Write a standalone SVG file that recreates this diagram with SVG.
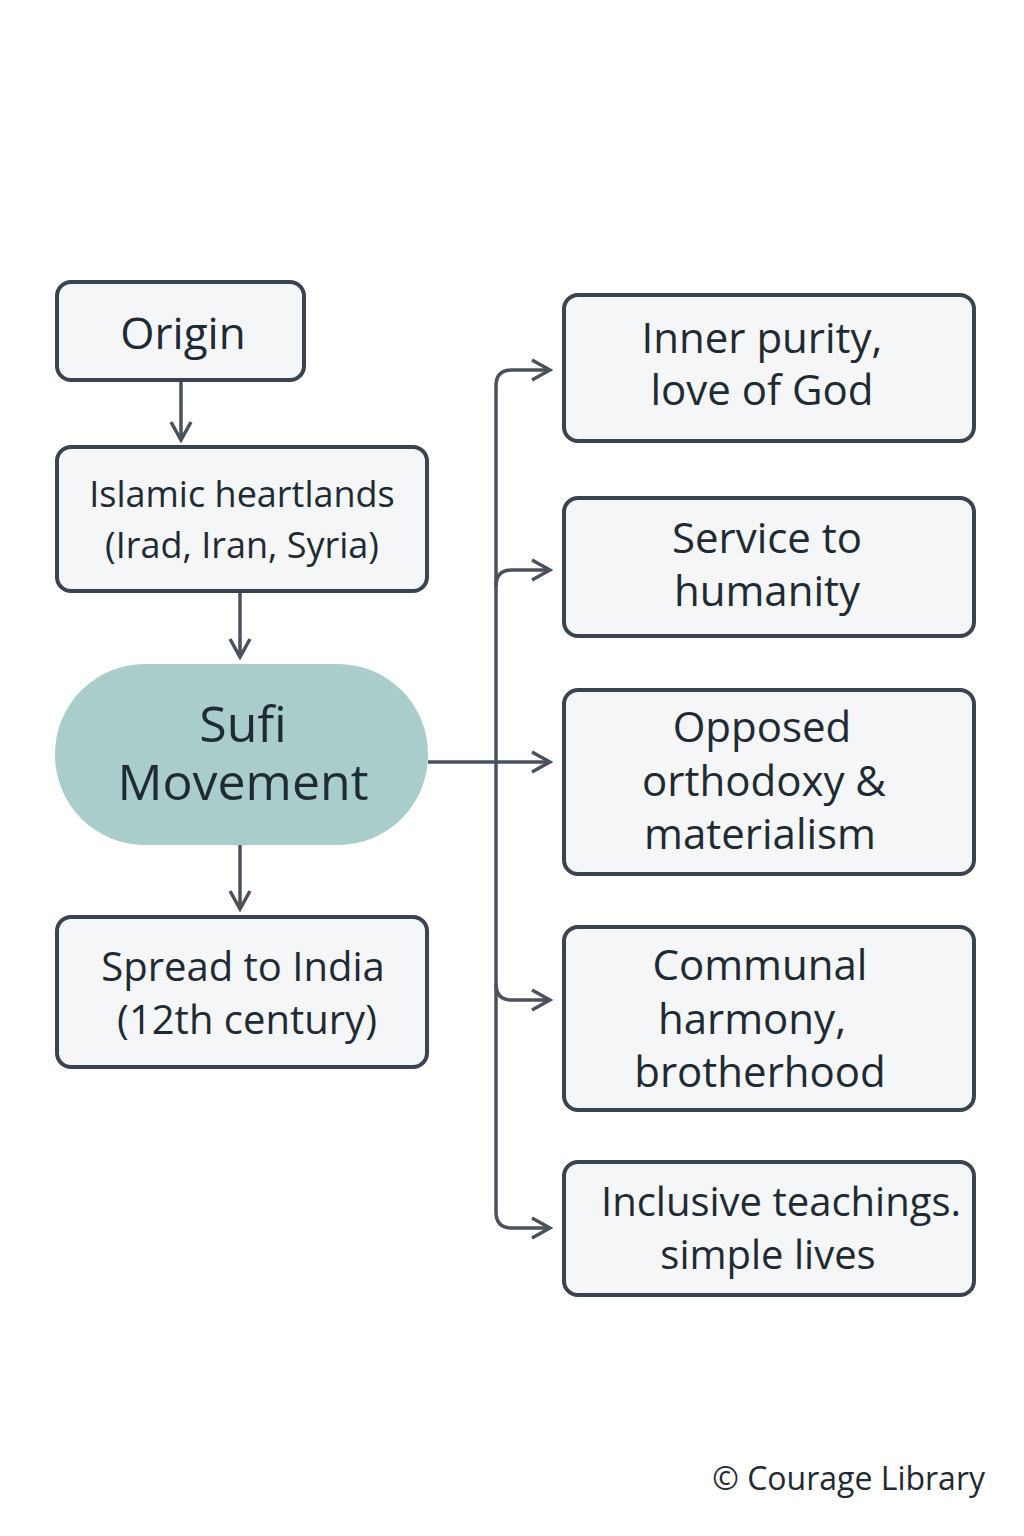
<svg xmlns="http://www.w3.org/2000/svg" width="1024" height="1536" viewBox="0 0 1024 1536">
<defs>
<style>
.box{fill:#f4f6f7;stroke:#3a4450;stroke-width:4}
.t{font-family:"Open Sans","Liberation Sans",sans-serif;fill:#1f2a33;text-anchor:middle}
.c{fill:none;stroke:#4a535c;stroke-width:3.5}
</style>
<marker id="ah2" viewBox="0 0 24 24" refX="21" refY="12" markerWidth="24" markerHeight="24" markerUnits="userSpaceOnUse" orient="auto">
<path d="M3,2 L21,12 L3,22" fill="none" stroke="#4a535c" stroke-width="3.5"/>
</marker>
</defs>
<rect width="1024" height="1536" fill="#ffffff"/>
<g id="connectors">
<line class="c" x1="181" y1="380" x2="181" y2="440" marker-end="url(#ah2)"/>
<line class="c" x1="240" y1="591" x2="240" y2="657" marker-end="url(#ah2)"/>
<line class="c" x1="240" y1="845" x2="240" y2="909" marker-end="url(#ah2)"/>
<path class="c" d="M428,762 H550" marker-end="url(#ah2)"/>
<path class="c" d="M496,386 V1212 Q496,1228 512,1228 H550" marker-end="url(#ah2)"/>
<path class="c" d="M496,386 Q496,370 512,370 H550" marker-end="url(#ah2)"/>
<path class="c" d="M496,586 Q496,570 512,570 H550" marker-end="url(#ah2)"/>
<path class="c" d="M496,984 Q496,1000 512,1000 H550" marker-end="url(#ah2)"/>
</g>
<g id="origin"><rect class="box" x="57" y="282" width="247" height="98" rx="14"/><text class="t" x="183" y="349" font-size="44">Origin</text></g>
<g id="heartlands"><rect class="box" x="57" y="447" width="370" height="144" rx="14"/><text class="t" x="242" y="507" font-size="36">Islamic heartlands</text><text class="t" x="242" y="558" font-size="36">(Irad, Iran, Syria)</text></g>
<g id="sufi"><rect x="55" y="664" width="373" height="181" rx="90" fill="#a9cdcb"/><text class="t" x="243" y="742" font-size="50" fill="#2d3a45">Sufi</text><text class="t" x="243" y="800" font-size="50" fill="#2d3a45">Movement</text></g>
<g id="spread"><rect class="box" x="57" y="917" width="370" height="150" rx="14"/><text class="t" x="243" y="981" font-size="40">Spread to India</text><text class="t" x="247" y="1034" font-size="40">(12th century)</text></g>
<g id="b1"><rect class="box" x="564" y="295" width="410" height="146" rx="14"/><text class="t" x="762" y="353" font-size="42">Inner purity,</text><text class="t" x="762" y="405" font-size="42">love of God</text></g>
<g id="b2"><rect class="box" x="564" y="498" width="410" height="138" rx="14"/><text class="t" x="767" y="553" font-size="42">Service to</text><text class="t" x="767" y="606" font-size="42">humanity</text></g>
<g id="b3"><rect class="box" x="564" y="690" width="410" height="184" rx="14"/><text class="t" x="762" y="742" font-size="42">Opposed</text><text class="t" x="764" y="796" font-size="42">orthodoxy &amp;</text><text class="t" x="760" y="849" font-size="42">materialism</text></g>
<g id="b4"><rect class="box" x="564" y="927" width="410" height="183" rx="14"/><text class="t" x="760" y="980" font-size="42">Communal</text><text class="t" x="752" y="1034" font-size="42">harmony,</text><text class="t" x="760" y="1087" font-size="42">brotherhood</text></g>
<g id="b5"><rect class="box" x="564" y="1162" width="410" height="133" rx="14"/><text class="t" x="781" y="1216" font-size="40">Inclusive teachings.</text><text class="t" x="768" y="1269" font-size="40">simple lives</text></g>
<text x="985" y="1490" font-family="Open Sans, Liberation Sans, sans-serif" font-size="32" fill="#1f2a33" text-anchor="end">© Courage Library</text>
</svg>
